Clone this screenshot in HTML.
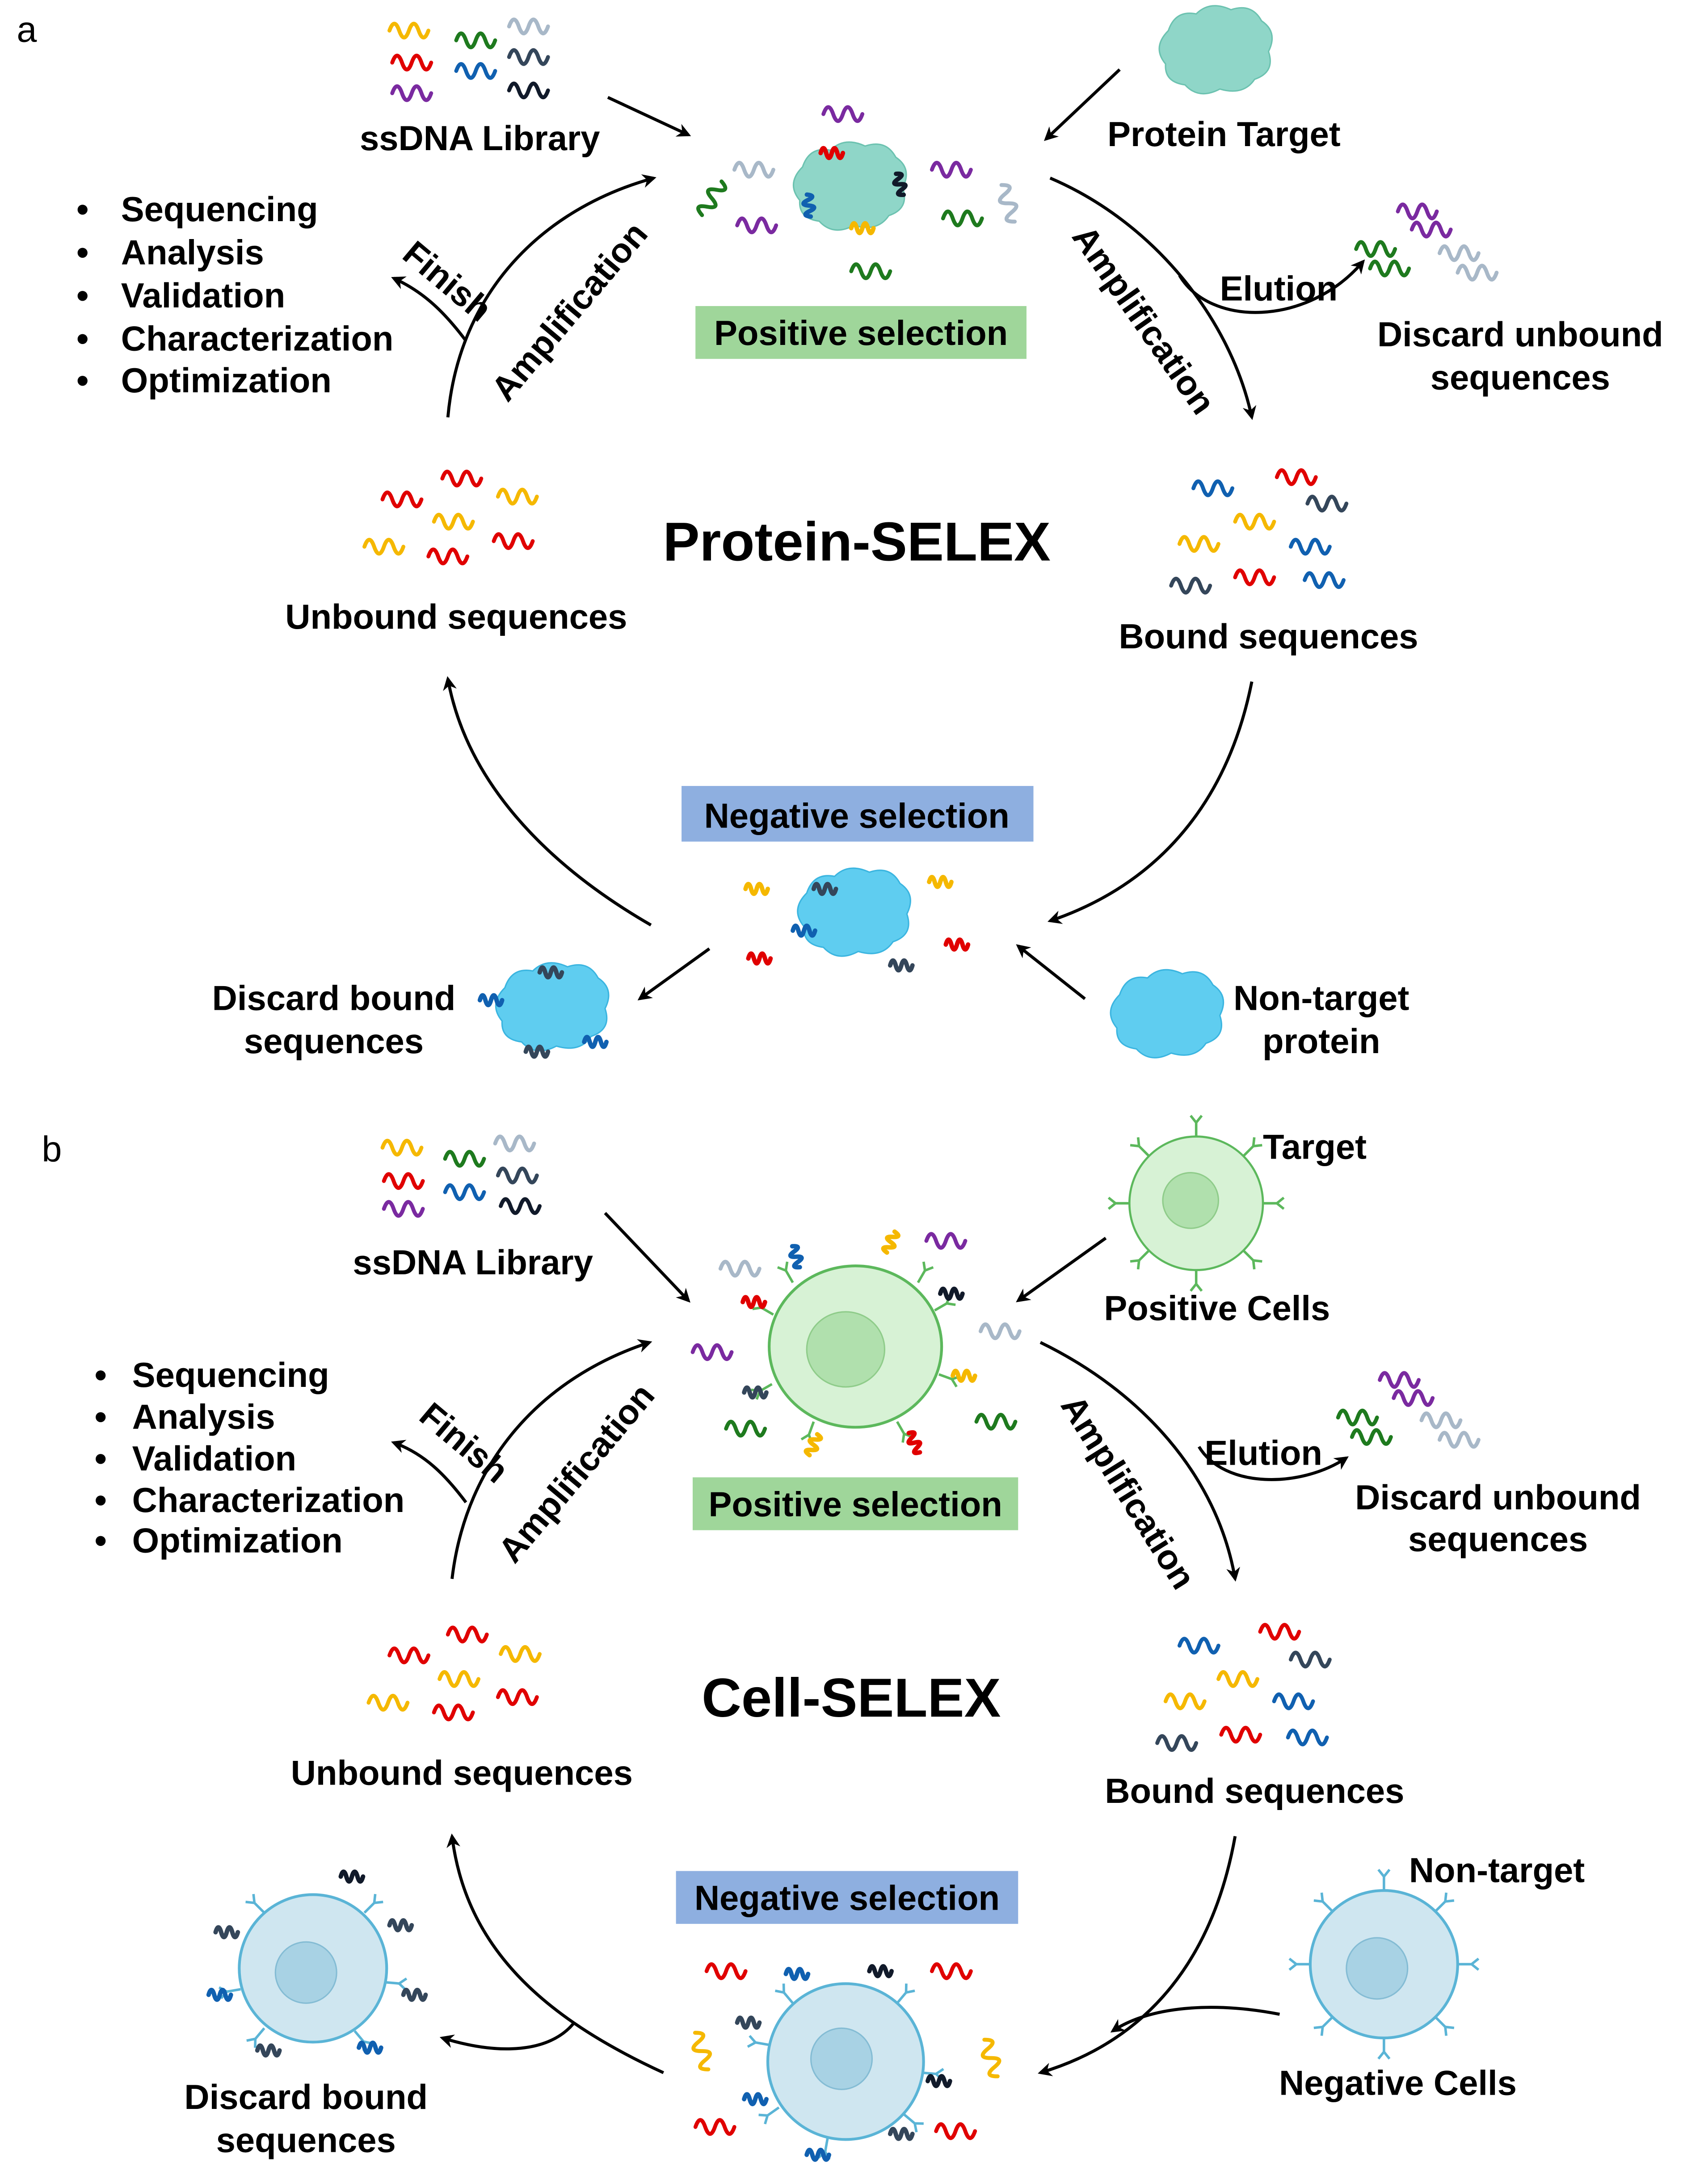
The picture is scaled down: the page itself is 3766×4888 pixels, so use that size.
<!DOCTYPE html>
<html><head><meta charset="utf-8"><style>html,body{margin:0;padding:0;background:#fff}svg{display:block}</style></head>
<body>
<svg width="3766" height="4888" viewBox="0 0 1210 1570" preserveAspectRatio="none" xmlns="http://www.w3.org/2000/svg" font-family="Liberation Sans, Arial, sans-serif" font-weight="bold">
<defs>
<path id="w" d="M0,7 q3.5,-10 7,0 t7,0 t7,0 t7,0" fill="none" stroke-width="2.8" stroke-linecap="round"/>
<path id="ws" d="M0,4 q2,-7 4,0 t4,0 t4,0 t4,0" fill="none" stroke-width="3.2" stroke-linecap="round"/>
<marker id="ah" markerWidth="10" markerHeight="10" refX="8" refY="5" orient="auto" markerUnits="userSpaceOnUse"><path d="M0,0 L10,5 L0,10 L3,5 z" fill="#000"/></marker>
<g id="teal"><path d="M-35,-20 q5,-15 20,-12 q10,-10 25,-3 q15,-5 22,8 q12,8 5,22 q5,15 -10,20 q-8,12 -25,7 q-15,8 -25,-3 q-15,-2 -14,-15 q-10,-12 2,-24z"/></g>
<g id="antenna"><path d="M0,0 l0,-10 m0,0 l-4,-5 m4,5 l4,-5" fill="none" stroke-width="1.8"/></g>
</defs>
<style>text{fill:#000}.l{font-size:25px}.t{font-size:25px;text-anchor:middle}</style>

<!-- Panel a -->
<text x="12" y="30" font-size="26" font-weight="normal">a</text>
<g>
<use href="#w" x="280" y="15" stroke="#f5b800"/><use href="#w" x="328" y="22" stroke="#1e7a1e"/><use href="#w" x="366" y="12" stroke="#a8b8c8"/>
<use href="#w" x="282" y="38" stroke="#e00000"/><use href="#w" x="328" y="44" stroke="#1060b0"/><use href="#w" x="366" y="34" stroke="#34465a"/>
<use href="#w" x="282" y="60" stroke="#7a2aa0"/><use href="#w" x="366" y="58" stroke="#111a2a"/>
</g>
<text class="t" x="345" y="108">ssDNA Library</text>
<use href="#teal" x="875" y="42" fill="#8fd6c8" stroke="#6cc2b0"/>
<text class="t" x="880" y="105">Protein Target</text>
<line x1="437" y1="70" x2="495" y2="97" stroke="#000" stroke-width="2.2" marker-end="url(#ah)"/>
<line x1="805" y1="50" x2="752" y2="100" stroke="#000" stroke-width="2.2" marker-end="url(#ah)"/>
<use href="#teal" x="612" y="140" fill="#8fd6c8" stroke="#6cc2b0"/>
<use href="#w" x="592" y="75" stroke="#7a2aa0"/><use href="#w" x="528" y="115" stroke="#a8b8c8"/><use href="#w" x="498" y="140" stroke="#1e7a1e" transform="rotate(-60 508 145)"/>
<use href="#w" x="530" y="155" stroke="#7a2aa0"/><use href="#w" x="670" y="115" stroke="#7a2aa0"/><use href="#w" x="678" y="150" stroke="#1e7a1e"/>
<use href="#w" x="720" y="140" stroke="#a8b8c8" transform="rotate(70 730 140)"/><use href="#w" x="612" y="188" stroke="#1e7a1e"/>
<use href="#ws" x="590" y="106" stroke="#e00000"/><use href="#ws" x="612" y="160" stroke="#f5b800"/><use href="#ws" x="640" y="125" stroke="#111a2a" transform="rotate(70 645 130)"/><use href="#ws" x="575" y="140" stroke="#1060b0" transform="rotate(80 580 145)"/>
<rect x="500" y="220" width="238" height="38" fill="#9fd69a"/>
<text class="t" x="619" y="248">Positive selection</text>
<path d="M322,300 C330,210 390,150 470,128" fill="none" stroke="#000" stroke-width="2.2" marker-end="url(#ah)"/>
<path d="M335,245 C320,225 305,210 283,200" fill="none" stroke="#000" stroke-width="2.2" marker-end="url(#ah)"/>
<text class="l" x="288" y="185" transform="rotate(40 288 185)">Finish</text>
<text class="l" x="365" y="290" transform="rotate(-50 365 290)">Amplification</text>
<g class="l"><text x="55" y="159">•</text><text x="87" y="159">Sequencing</text>
<text x="55" y="190">•</text><text x="87" y="190">Analysis</text>
<text x="55" y="221">•</text><text x="87" y="221">Validation</text>
<text x="55" y="252">•</text><text x="87" y="252">Characterization</text>
<text x="55" y="282">•</text><text x="87" y="282">Optimization</text></g>
<path d="M755,128 C830,160 885,230 900,300" fill="none" stroke="#000" stroke-width="2.2" marker-end="url(#ah)"/>
<text class="l" x="770" y="170" transform="rotate(55 770 170)">Amplification</text>
<path d="M848,198 C870,235 940,235 980,188" fill="none" stroke="#000" stroke-width="2.2" marker-end="url(#ah)"/>
<text class="l" x="877" y="216">Elution</text>
<use href="#w" x="1005" y="145" stroke="#7a2aa0"/><use href="#w" x="1015" y="158" stroke="#7a2aa0"/><use href="#w" x="975" y="172" stroke="#1e7a1e"/><use href="#w" x="985" y="186" stroke="#1e7a1e"/><use href="#w" x="1035" y="175" stroke="#a8b8c8"/><use href="#w" x="1048" y="189" stroke="#a8b8c8"/>
<text class="t" x="1093" y="249">Discard unbound</text><text class="t" x="1093" y="280">sequences</text>
<text x="616" y="403" font-size="39.5" text-anchor="middle">Protein-SELEX</text>
<use href="#w" x="275" y="352" stroke="#e00000"/><use href="#w" x="318" y="337" stroke="#e00000"/><use href="#w" x="358" y="350" stroke="#f5b800"/><use href="#w" x="312" y="368" stroke="#f5b800"/><use href="#w" x="262" y="386" stroke="#f5b800"/><use href="#w" x="355" y="382" stroke="#e00000"/><use href="#w" x="308" y="393" stroke="#e00000"/>
<text class="t" x="328" y="452">Unbound sequences</text>
<use href="#w" x="858" y="344" stroke="#1060b0"/><use href="#w" x="918" y="336" stroke="#e00000"/><use href="#w" x="940" y="355" stroke="#34465a"/><use href="#w" x="888" y="368" stroke="#f5b800"/><use href="#w" x="848" y="384" stroke="#f5b800"/><use href="#w" x="928" y="386" stroke="#1060b0"/><use href="#w" x="842" y="414" stroke="#34465a"/><use href="#w" x="888" y="408" stroke="#e00000"/><use href="#w" x="938" y="410" stroke="#1060b0"/>
<text class="t" x="912" y="466">Bound sequences</text>
<path d="M900,490 C880,590 820,640 755,662" fill="none" stroke="#000" stroke-width="2.2" marker-end="url(#ah)"/>
<path d="M468,665 C390,620 335,560 322,488" fill="none" stroke="#000" stroke-width="2.2" marker-end="url(#ah)"/>
<rect x="490" y="565" width="253" height="40" fill="#8eafe0"/>
<text class="t" x="616" y="595">Negative selection</text>
<use href="#teal" x="615" y="662" fill="#5fcdf0" stroke="#3bb5e0"/>
<use href="#ws" x="536" y="635" stroke="#f5b800"/><use href="#ws" x="538" y="685" stroke="#e00000"/><use href="#ws" x="668" y="630" stroke="#f5b800"/><use href="#ws" x="680" y="675" stroke="#e00000"/>
<use href="#ws" x="585" y="635" stroke="#34465a"/><use href="#ws" x="640" y="690" stroke="#34465a"/><use href="#ws" x="570" y="665" stroke="#1060b0"/>
<line x1="510" y1="682" x2="460" y2="718" stroke="#000" stroke-width="2.2" marker-end="url(#ah)"/>
<use href="#teal" x="398" y="730" fill="#5fcdf0" stroke="#3bb5e0"/>
<use href="#ws" x="388" y="695" stroke="#34465a"/><use href="#ws" x="345" y="715" stroke="#1060b0"/><use href="#ws" x="378" y="752" stroke="#34465a"/><use href="#ws" x="420" y="745" stroke="#1060b0"/>
<text class="t" x="240" y="726">Discard bound</text><text class="t" x="240" y="757">sequences</text>
<line x1="780" y1="718" x2="732" y2="680" stroke="#000" stroke-width="2.2" marker-end="url(#ah)"/>
<use href="#teal" x="840" y="735" fill="#5fcdf0" stroke="#3bb5e0"/>
<text class="t" x="950" y="726">Non-target</text><text class="t" x="950" y="757">protein</text>

<!-- Panel b -->
<text x="30" y="835" font-size="26" font-weight="normal">b</text>
<use href="#w" x="275" y="818" stroke="#f5b800"/><use href="#w" x="320" y="826" stroke="#1e7a1e"/><use href="#w" x="356" y="815" stroke="#a8b8c8"/>
<use href="#w" x="276" y="842" stroke="#e00000"/><use href="#w" x="320" y="850" stroke="#1060b0"/><use href="#w" x="358" y="838" stroke="#34465a"/>
<use href="#w" x="276" y="862" stroke="#7a2aa0"/><use href="#w" x="360" y="860" stroke="#111a2a"/>
<text class="t" x="340" y="916">ssDNA Library</text>
<g stroke="#5cb85c"><circle cx="860" cy="865" r="48" fill="#d7f2d5" stroke-width="1.5"/><circle cx="856" cy="863" r="20" fill="#b0e0ad" stroke="#8fcc8a"/>
<use href="#antenna" transform="translate(860 817)"/><use href="#antenna" transform="translate(908 865) rotate(90)"/><use href="#antenna" transform="translate(812 865) rotate(-90)"/><use href="#antenna" transform="translate(860 913) rotate(180)"/><use href="#antenna" transform="translate(894 831) rotate(45)"/><use href="#antenna" transform="translate(826 831) rotate(-45)"/><use href="#antenna" transform="translate(894 899) rotate(135)"/><use href="#antenna" transform="translate(826 899) rotate(-135)"/></g>
<text class="l" x="908" y="833">Target</text>
<text class="t" x="875" y="949">Positive Cells</text>
<line x1="795" y1="890" x2="732" y2="935" stroke="#000" stroke-width="2.2" marker-end="url(#ah)"/>
<line x1="435" y1="872" x2="495" y2="935" stroke="#000" stroke-width="2.2" marker-end="url(#ah)"/>
<g stroke="#5cb85c"><ellipse cx="615" cy="968" rx="62" ry="58" fill="#d7f2d5" stroke-width="2"/><ellipse cx="608" cy="970" rx="28" ry="27" fill="#b0e0ad" stroke="#8fcc8a"/>
<use href="#antenna" transform="translate(570 922) rotate(-30)"/><use href="#antenna" transform="translate(660 922) rotate(30)"/><use href="#antenna" transform="translate(556 945) rotate(-60)"/><use href="#antenna" transform="translate(672 942) rotate(60)"/><use href="#antenna" transform="translate(555 995) rotate(-120)"/><use href="#antenna" transform="translate(675 988) rotate(110)"/><use href="#antenna" transform="translate(585 1022) rotate(-160)"/><use href="#antenna" transform="translate(645 1022) rotate(150)"/></g>
<use href="#ws" x="566" y="895" stroke="#1060b0" transform="rotate(70 570 900)"/><use href="#ws" x="636" y="892" stroke="#f5b800" transform="rotate(-70 640 897)"/><use href="#ws" x="534" y="932" stroke="#e00000"/><use href="#ws" x="676" y="926" stroke="#111a2a"/><use href="#ws" x="535" y="997" stroke="#34465a"/><use href="#ws" x="685" y="985" stroke="#f5b800"/><use href="#ws" x="575" y="1040" stroke="#f5b800" transform="rotate(-70 580 1040)"/><use href="#ws" x="650" y="1030" stroke="#e00000" transform="rotate(60 655 1035)"/>
<use href="#w" x="518" y="905" stroke="#a8b8c8"/><use href="#w" x="666" y="885" stroke="#7a2aa0"/><use href="#w" x="498" y="965" stroke="#7a2aa0"/><use href="#w" x="705" y="950" stroke="#a8b8c8"/><use href="#w" x="522" y="1020" stroke="#1e7a1e"/><use href="#w" x="702" y="1015" stroke="#1e7a1e"/>
<rect x="498" y="1062" width="234" height="38" fill="#9fd69a"/>
<text class="t" x="615" y="1090">Positive selection</text>
<path d="M325,1135 C335,1050 390,990 467,965" fill="none" stroke="#000" stroke-width="2.2" marker-end="url(#ah)"/>
<path d="M335,1080 C320,1060 305,1045 283,1037" fill="none" stroke="#000" stroke-width="2.2" marker-end="url(#ah)"/>
<text class="l" x="300" y="1020" transform="rotate(40 300 1020)">Finish</text>
<text class="l" x="370" y="1125" transform="rotate(-50 370 1125)">Amplification</text>
<g class="l"><text x="68" y="997">•</text><text x="95" y="997">Sequencing</text>
<text x="68" y="1027">•</text><text x="95" y="1027">Analysis</text>
<text x="68" y="1057">•</text><text x="95" y="1057">Validation</text>
<text x="68" y="1087">•</text><text x="95" y="1087">Characterization</text>
<text x="68" y="1116">•</text><text x="95" y="1116">Optimization</text></g>
<path d="M748,965 C820,1000 875,1060 888,1135" fill="none" stroke="#000" stroke-width="2.2" marker-end="url(#ah)"/>
<text class="l" x="762" y="1010" transform="rotate(58 762 1010)">Amplification</text>
<path d="M862,1040 C880,1070 935,1070 968,1048" fill="none" stroke="#000" stroke-width="2.2" marker-end="url(#ah)"/>
<text class="l" x="866" y="1053">Elution</text>
<use href="#w" x="992" y="985" stroke="#7a2aa0"/><use href="#w" x="1002" y="998" stroke="#7a2aa0"/><use href="#w" x="962" y="1012" stroke="#1e7a1e"/><use href="#w" x="972" y="1026" stroke="#1e7a1e"/><use href="#w" x="1022" y="1014" stroke="#a8b8c8"/><use href="#w" x="1035" y="1028" stroke="#a8b8c8"/>
<text class="t" x="1077" y="1085">Discard unbound</text><text class="t" x="1077" y="1115">sequences</text>
<text x="612" y="1234" font-size="39.5" text-anchor="middle">Cell-SELEX</text>
<use href="#w" x="280" y="1183" stroke="#e00000"/><use href="#w" x="322" y="1168" stroke="#e00000"/><use href="#w" x="360" y="1182" stroke="#f5b800"/><use href="#w" x="316" y="1200" stroke="#f5b800"/><use href="#w" x="265" y="1217" stroke="#f5b800"/><use href="#w" x="358" y="1213" stroke="#e00000"/><use href="#w" x="312" y="1224" stroke="#e00000"/>
<text class="t" x="332" y="1283">Unbound sequences</text>
<use href="#w" x="848" y="1176" stroke="#1060b0"/><use href="#w" x="906" y="1166" stroke="#e00000"/><use href="#w" x="928" y="1186" stroke="#34465a"/><use href="#w" x="876" y="1200" stroke="#f5b800"/><use href="#w" x="838" y="1216" stroke="#f5b800"/><use href="#w" x="916" y="1216" stroke="#1060b0"/><use href="#w" x="832" y="1246" stroke="#34465a"/><use href="#w" x="878" y="1240" stroke="#e00000"/><use href="#w" x="926" y="1242" stroke="#1060b0"/>
<text class="t" x="902" y="1296">Bound sequences</text>
<path d="M888,1320 C870,1420 815,1470 748,1490" fill="none" stroke="#000" stroke-width="2.2" marker-end="url(#ah)"/>
<path d="M477,1490 C390,1450 335,1400 325,1320" fill="none" stroke="#000" stroke-width="2.2" marker-end="url(#ah)"/>
<rect x="486" y="1345" width="246" height="38" fill="#8eafe0"/>
<text class="t" x="609" y="1373">Negative selection</text>
<g stroke="#5ab4d6"><circle cx="608" cy="1482" r="56" fill="#cfe6f0" stroke-width="2"/><circle cx="605" cy="1480" r="22" fill="#a8d2e4" stroke="#84bcd4"/>
<use href="#antenna" transform="translate(570 1440) rotate(-40)"/><use href="#antenna" transform="translate(645 1440) rotate(40)"/><use href="#antenna" transform="translate(553 1470) rotate(-80)"/><use href="#antenna" transform="translate(663 1490) rotate(95)"/><use href="#antenna" transform="translate(560 1515) rotate(-125)"/><use href="#antenna" transform="translate(650 1520) rotate(130)"/><use href="#antenna" transform="translate(595 1537) rotate(-170)"/></g>
<use href="#ws" x="565" y="1415" stroke="#1060b0"/><use href="#ws" x="625" y="1413" stroke="#111a2a"/><use href="#ws" x="530" y="1450" stroke="#34465a"/><use href="#ws" x="667" y="1492" stroke="#111a2a"/><use href="#ws" x="535" y="1505" stroke="#1060b0"/><use href="#ws" x="640" y="1530" stroke="#34465a"/><use href="#ws" x="580" y="1545" stroke="#1060b0"/>
<use href="#w" x="508" y="1410" stroke="#e00000"/><use href="#w" x="670" y="1410" stroke="#e00000"/><use href="#w" x="495" y="1465" stroke="#f5b800" transform="rotate(70 505 1470)"/><use href="#w" x="703" y="1470" stroke="#f5b800" transform="rotate(70 713 1475)"/><use href="#w" x="500" y="1522" stroke="#e00000"/><use href="#w" x="673" y="1525" stroke="#e00000"/>
<g stroke="#5ab4d6"><circle cx="225" cy="1415" r="53" fill="#cfe6f0" stroke-width="2"/><circle cx="220" cy="1418" r="22" fill="#a8d2e4" stroke="#84bcd4"/>
<use href="#antenna" transform="translate(190 1375) rotate(-45)"/><use href="#antenna" transform="translate(262 1375) rotate(45)"/><use href="#antenna" transform="translate(173 1430) rotate(-100)"/><use href="#antenna" transform="translate(277 1425) rotate(95)"/><use href="#antenna" transform="translate(190 1458) rotate(-140)"/><use href="#antenna" transform="translate(255 1460) rotate(140)"/></g>
<use href="#ws" x="155" y="1385" stroke="#34465a"/><use href="#ws" x="245" y="1345" stroke="#111a2a"/><use href="#ws" x="280" y="1380" stroke="#34465a"/><use href="#ws" x="150" y="1430" stroke="#1060b0"/><use href="#ws" x="290" y="1430" stroke="#34465a"/><use href="#ws" x="185" y="1470" stroke="#34465a"/><use href="#ws" x="258" y="1468" stroke="#1060b0"/>
<text class="t" x="220" y="1516">Discard bound</text><text class="t" x="220" y="1547">sequences</text>
<path d="M412,1455 C395,1475 360,1478 318,1465" fill="none" stroke="#000" stroke-width="2.2" marker-end="url(#ah)"/>
<g stroke="#5ab4d6"><circle cx="995" cy="1412" r="53" fill="#cfe6f0" stroke-width="2"/><circle cx="990" cy="1415" r="22" fill="#a8d2e4" stroke="#84bcd4"/>
<use href="#antenna" transform="translate(995 1359)"/><use href="#antenna" transform="translate(958 1374) rotate(-45)"/><use href="#antenna" transform="translate(1032 1374) rotate(45)"/><use href="#antenna" transform="translate(942 1412) rotate(-90)"/><use href="#antenna" transform="translate(1048 1412) rotate(90)"/><use href="#antenna" transform="translate(958 1450) rotate(-135)"/><use href="#antenna" transform="translate(1032 1450) rotate(135)"/><use href="#antenna" transform="translate(995 1465) rotate(180)"/></g>
<text class="l" x="1013" y="1353">Non-target</text>
<text class="t" x="1005" y="1506">Negative Cells</text>
<path d="M920,1448 C880,1440 830,1440 800,1460" fill="none" stroke="#000" stroke-width="2.2" marker-end="url(#ah)"/>
</svg>
</body></html>
